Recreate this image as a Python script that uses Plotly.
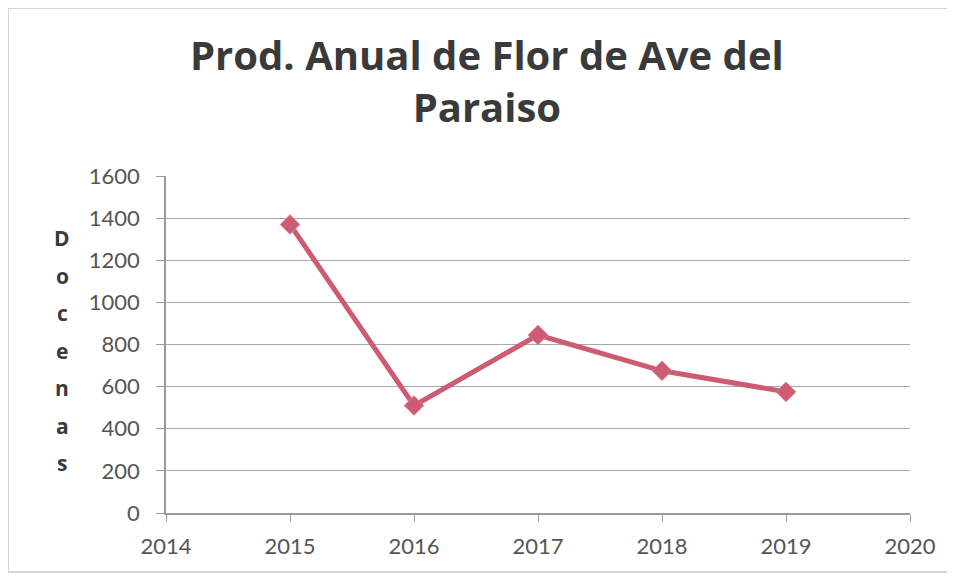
import plotly.graph_objects as go

years = [2015, 2016, 2017, 2018, 2019]
docenas = [1370, 510, 845, 675, 575]
x_ticks = [2014, 2015, 2016, 2017, 2018, 2019, 2020]
y_ticks = [0, 200, 400, 600, 800, 1000, 1200, 1400, 1600]
title_text = "Prod. Anual de Flor de Ave del<br>Paraiso"
y_label = "Docenas"

# page body has an 8px margin; compensate so plot sits where the reference has it
L, T = 158, 168
W, H = 744, 337
fig = go.Figure()
fig.add_trace(go.Scatter(
    x=years, y=docenas, mode="lines+markers",
    line=dict(color="#cd5b72", width=5),
    marker=dict(symbol="diamond", size=15, color="#cd5b72",
                line=dict(color="#d97a8b", width=1)),
    showlegend=False,
))

def px_x(sx):  # screen x -> paper
    return (sx - 8 - L) / W

def px_y(sy):  # screen y -> paper
    return (T + 8 + H - sy) / H

ann = [dict(text="<b>" + title_text + "</b>", xref="paper", yref="paper",
            x=px_x(487), y=px_y(81), xanchor="center", yanchor="middle",
            showarrow=False,
            font=dict(family="Open Sans, sans-serif", size=40, color="#3a3a3a"))]
for i, ch in enumerate(y_label):
    ann.append(dict(text="<b>" + ch + "</b>", xref="paper", yref="paper",
                    x=px_x(62), y=px_y(238 + i * 37.5), xanchor="center", yanchor="middle",
                    showarrow=False,
                    font=dict(family="Open Sans, sans-serif", size=21, color="#3a3a3a")))

fig.update_layout(
    width=955, height=576,
    paper_bgcolor="white", plot_bgcolor="white",
    margin=dict(l=L, r=955 - L - W, t=T, b=576 - T - H),
    font=dict(family="Lato, Open Sans, sans-serif"),
    shapes=[dict(type="rect", xref="paper", yref="paper",
                 x0=px_x(8), x1=px_x(950), y0=px_y(572), y1=px_y(8),
                 line=dict(color="#c8c8c8", width=1.5))],
    annotations=ann,
)
fig.update_xaxes(range=[2014, 2020], tickvals=x_ticks, showgrid=False,
                 showline=True, linecolor="#9a9a9a", linewidth=1.5,
                 ticks="outside", ticklen=7, tickcolor="#9a9a9a", ticklabelstandoff=6,
                 tickfont=dict(size=22, color="#555555"), zeroline=False)
fig.update_yaxes(range=[0, 1600], tickvals=y_ticks, showgrid=True,
                 gridcolor="#a8a8a8", gridwidth=1,
                 showline=True, linecolor="#9a9a9a", linewidth=1.5,
                 ticks="outside", ticklen=8, tickcolor="#9a9a9a", ticklabelstandoff=12,
                 tickfont=dict(size=22, color="#555555"), zeroline=False)

fig.write_html("out.html")
